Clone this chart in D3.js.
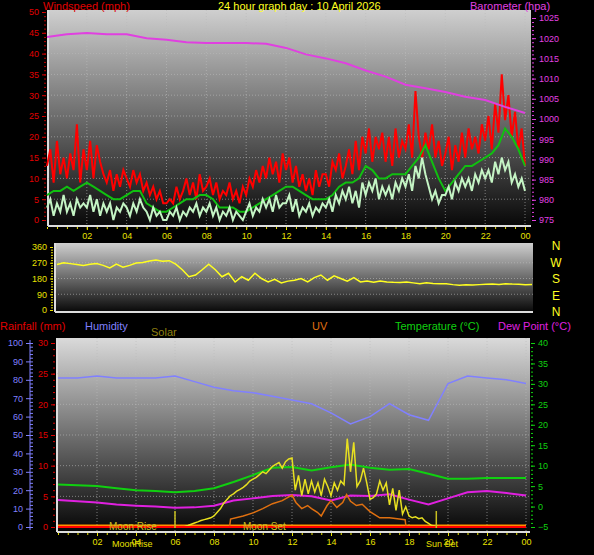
<!DOCTYPE html>
<html>
<head>
<meta charset="UTF-8">
<script src="https://d3js.org/d3.v7.min.js"></script>
<style>
  body { margin: 0; background: #000; }
  text { font-family: "Liberation Sans", Arial, sans-serif; }
</style>
</head>
<body>
<div id="chart"></div>
<script>
// ---- data (10-min or 20-min steps, hour 0 .. 24) ----
const windGust = [
  13,17,9,19,11,15, 10,16,12,23,9,17, 12,19,10,18,14,11, 9,12,7,11,8,12,
  10,8,12,9,11,7, 9,6,8,5,7,4, 4,5,4,8,5,7, 10,6,9,5,11,7,
  8,10,6,9,5,7, 6,9,5,7,4,8, 6,10,8,12,9,13, 10,15,11,14,9,16,
  12,15,9,13,8,11, 7,10,6,12,8,11, 11,8,14,12,16,10, 13,17,11,19,12,20,
  16,22,14,20,17,21, 14,20,13,22,15,19, 17,23,15,31,20,15, 21,17,23,15,19,13,
  16,20,12,18,14,21, 15,22,17,20,16,23, 19,25,17,28,21,35, 24,30,20,26,17,22, 13
];
const windSpeed = [
  3,5,1,4,2,6, 2,4,1,5,3,4, 3,6,2,5,1,4, 2,4,0,3,2,4,
  3,1,4,2,5,3, 2,0,3,1,2,0, 0,2,1,3,0,2, 1,3,2,4,1,3,
  2,4,1,3,0,2, 1,3,0,2,1,0, 2,4,1,3,2,5, 3,5,2,6,3,4,
  4,6,2,5,1,3, 2,4,1,3,2,4, 3,5,2,6,4,7, 5,8,4,7,3,9,
  6,9,7,10,5,8, 6,8,5,9,7,10, 8,11,7,13,10,15, 11,8,5,7,4,6,
  6,8,5,9,7,10, 8,10,7,11,9,12, 10,12,9,14,11,15, 12,14,9,11,8,10, 7
];
const windAvg = [
  6,7,7, 8,7,8, 9,8,7, 6,5,5, 6,7,7, 4,3,2, 2,3,4, 5,5,6,
  6,5,3, 3,3,2, 2,3,4, 5,6,7, 8,8,7, 6,5,5, 5,6,8, 9,9,10,
  13,12,10, 10,11,11, 11,13,15, 18,14,10, 7,9,11, 13,13,14, 15,16,18, 22,20,17, 13
];
const barometer = [1020.3,1021,1021.3,1021,1021,1020,1019.6,1019,1018.8,1018.8,1018.8,1018.6,
  1017.6,1016,1015,1013.8,1012,1010.5,1008.5,1007.6,1006.7,1005.5,1004.7,1003,1001.5];
const windDir = [
  260,270,265, 260,255,262, 265,255,240, 262,245,255, 268,272,280, 285,278,282,
  262,230,190, 200,230,262, 230,190,210, 160,190,170, 210,180,160, 175,155,165,
  170,180,160, 185,200,170, 195,180,165, 185,160,165, 158,165,160, 158,157,160,
  155,150,155, 152,150,150, 145,142,144, 143,145,147, 148,146,150, 148,147,145, 146
];
const humidity = [81,81,82,81,81,81,82,79,76,74,73,71,69,67,62,56,60,67,61,58,78,82,81,80,78];
const temperature = [5.4,5.2,5,4.5,4,3.8,3.5,3.8,4.5,6,7.7,9.5,9.7,8.8,9.6,10.3,9.5,9,9.2,8,6.8,6.8,7,7,7];
const dewPoint = [1.6,1.3,1,0.5,0.2,0,-0.3,-0.2,0.2,1.5,2,2.6,2.8,2.5,1.5,2.7,2.6,3,1.7,0.5,2,3.5,3.8,3.3,2.7];
const solar = [
  0,0,0,0,0,0, 0,0,0,0,0,0, 0,0,0,0,0,0, 0,0,0,0,0,0, 0,0,0,0,0,0, 0,0,0,0,0,0,
  0,0,0,3,8,15, 22,28,35,40,45,50, 60,80,100,130,150,170, 180,195,205,215,230,250,
  260,270,285,300,290,310, 330,340,350,320,355,370, 375,200,280,170,260,180,
  250,190,240,170,260,220, 170,240,200,250,230,480, 300,460,220,250,320,240,
  150,160,180,250,200,240, 120,210,90,200,70,110, 60,50,55,45,50,30, 20,8,5,3,2,0,
  0,0,0,0,0,0, 0,0,0,0,0,0, 0,0,0,0,0,0, 0,0,0,0,0,0, 0
];
const uvHours = [8.8,8.85,9.5,10,10.5,11,11.5,12,12.2,12.5,12.8,13,13.3,13.5,13.8,14,14.3,14.6,14.8,15,15.3,15.6,16,16.5,17,17.5,17.8,17.85];
const uvIndex = [0,1.3,1.8,2.3,3,3.8,4.3,5.2,4,3,3.5,3,2.4,1.8,3.5,4.3,3.2,4,5.3,4.2,3.5,3.7,2.5,1.5,1.5,1.3,1.2,0];
const rainfall = [0,0,0,0,0,0,0,0,0,0,0,0,0,0,0,0,0,0,0,0,0,0,0,0,0];
const hourLabels = ["02","04","06","08","10","12","14","16","18","20","22","00"];
const compass = ["N","W","S","E","N"];

const W = 594, H = 555;
const svg = d3.select("#chart").append("svg").attr("width", W).attr("height", H)
  .style("background", "#000");
const defs = svg.append("defs");

function grad(id, top, bottom) {
  const g = defs.append("linearGradient").attr("id", id).attr("x1", 0).attr("y1", 0).attr("x2", 0).attr("y2", 1);
  g.append("stop").attr("offset", "0%").attr("stop-color", top);
  g.append("stop").attr("offset", "100%").attr("stop-color", bottom);
}
grad("g1", "#cfcfcf", "#080808");
grad("g3", "#dadada", "#050505");

function panel(x0, x1, y0, y1, gid) {
  svg.append("rect").attr("x", x0).attr("y", y0).attr("width", x1 - x0).attr("height", y1 - y0)
    .attr("fill", `url(#${gid})`);
  svg.append("line").attr("x1", x0).attr("x2", x1).attr("y1", y1).attr("y2", y1)
    .attr("stroke", "#ddd").attr("stroke-width", 2);
  svg.append("line").attr("x1", x0).attr("x2", x0).attr("y1", y0).attr("y2", y1)
    .attr("stroke", "#ddd").attr("stroke-width", 2);
}
function vgrid(x, y0, y1) {
  d3.range(2, 25, 2).forEach(h => svg.append("line").attr("x1", x(h)).attr("x2", x(h))
    .attr("y1", y0).attr("y2", y1).attr("stroke", "#bbb").attr("stroke-opacity", 0.6)
    .attr("stroke-dasharray", "1,2"));
}
function hgrid(y, vals, x0, x1) {
  vals.forEach(v => svg.append("line").attr("x1", x0).attr("x2", x1).attr("y1", y(v)).attr("y2", y(v))
    .attr("stroke", "#bbb").attr("stroke-opacity", 0.6).attr("stroke-dasharray", "1,2"));
}
function axis(gen, pos, color) {
  const g = svg.append("g").attr("transform", pos).call(gen);
  g.select(".domain").remove();
  g.selectAll("line").attr("stroke", color);
  g.selectAll("text").attr("fill", color).style("font-size", "9px");
  return g;
}
function series(arr, step) { return arr.map((v, i) => [i * step, v]); }
function draw(data, x, y, color, w) {
  svg.append("path").datum(data).attr("fill", "none").attr("stroke", color).attr("stroke-width", w)
    .attr("d", d3.line().x(d => x(d[0])).y(d => y(d[1])));
}
function label(t, x, y, c) {
  svg.append("text").attr("x", x).attr("y", y).attr("fill", c).style("font-size", "11px").text(t);
}

// ---- panel 1: wind + barometer ----
const x1 = d3.scaleLinear().domain([0, 24]).range([47, 525]);
const yW = d3.scaleLinear().domain([0, 50]).range([220, 12]);
const yP = d3.scaleLinear().domain([975, 1025]).range([220, 18]);
panel(48, 531, 10, 226, "g1");
vgrid(x1, 10, 225);
hgrid(yW, d3.range(5, 50, 5), 48, 531);
axis(d3.axisLeft(yW).tickValues(d3.range(0, 51, 5)).tickSize(4), "translate(46,0)", "#e00000");
axis(d3.axisLeft(yW).tickValues(d3.range(0, 51, 1)).tickSize(2).tickFormat(""), "translate(46,0)", "#c00000");
axis(d3.axisRight(yP).tickValues(d3.range(975, 1026, 5)).tickSize(4).tickFormat(d3.format("d")), "translate(532,0)", "#e040e0");
axis(d3.axisRight(yP).tickValues(d3.range(975, 1026, 1)).tickSize(2).tickFormat(""), "translate(532,0)", "#e040e0");
axis(d3.axisBottom(x1).tickValues(d3.range(2, 25, 2)).tickSize(3).tickFormat((d, i) => hourLabels[i]),
  "translate(0,227)", "#e8e000");
axis(d3.axisBottom(x1).tickValues(d3.range(0, 24.1, 0.5)).tickSize(2).tickFormat(""), "translate(0,227)", "#e8e000");
draw(series(windGust, 1 / 6), x1, yW, "#ff0000", 2);
draw(series(windAvg, 1 / 3), x1, yW, "#10c010", 2);
draw(series(windSpeed, 1 / 6), x1, yW, "#c4f4c4", 2);
draw(series(barometer, 1), x1, yP, "#e040e0", 2);
label("Windspeed (mph)", 43, 10, "#e00000");
label("24 hour graph day : 10 April 2026", 218, 10, "#ffff20");
label("Barometer (hpa)", 470, 10, "#e040e0");

// ---- panel 2: wind direction ----
const x2 = d3.scaleLinear().domain([0, 24]).range([57, 532]);
const yD = d3.scaleLinear().domain([0, 360]).range([310, 247]);
panel(55, 533, 243, 312, "g1");
hgrid(yD, [90, 180, 270], 55, 533);
axis(d3.axisLeft(yD).tickValues([0, 90, 180, 270, 360]).tickSize(3), "translate(53,0)", "#e8e000");
axis(d3.axisLeft(yD).tickValues(d3.range(0, 361, 15)).tickSize(2).tickFormat(""), "translate(53,0)", "#e8e000");
draw(series(windDir, 1 / 3), x2, yD, "#ffff20", 1.5);
compass.forEach((c, i) => svg.append("text").attr("x", 556).attr("y", 250 + i * 16.5)
  .attr("text-anchor", "middle").attr("fill", "#ffff20").style("font-size", "12px").text(c));

// ---- panel 3: rain / humidity / solar / uv / temp / dew ----
const x3 = d3.scaleLinear().domain([0, 24]).range([58, 526]);
const yH = d3.scaleLinear().domain([0, 100]).range([527, 343]);
const yR = d3.scaleLinear().domain([0, 30]).range([527, 343]);
const yT = d3.scaleLinear().domain([-5, 40]).range([527, 343]);
const yS = d3.scaleLinear().domain([0, 1000]).range([527, 343]);
panel(57, 530, 338, 532, "g3");
vgrid(x3, 338, 531);
hgrid(yR, d3.range(5, 30, 5), 57, 530);
svg.append("line").attr("x1", 30).attr("x2", 30).attr("y1", 340).attr("y2", 530).attr("stroke", "#8080ff");
axis(d3.axisLeft(yH).tickValues(d3.range(0, 101, 10)).tickSize(4), "translate(30,0)", "#8080ff");
axis(d3.axisRight(yH).tickValues(d3.range(0, 101, 2)).tickSize(3).tickFormat(""), "translate(30,0)", "#8080ff");
axis(d3.axisLeft(yR).tickValues(d3.range(0, 31, 5)).tickSize(4), "translate(55,0)", "#e00000");
axis(d3.axisLeft(yR).tickValues(d3.range(0, 31, 1)).tickSize(2).tickFormat(""), "translate(55,0)", "#e00000");
axis(d3.axisRight(yT).tickValues(d3.range(-5, 41, 5)).tickSize(4), "translate(531,0)", "#10d010");
axis(d3.axisRight(yT).tickValues(d3.range(-5, 41, 1)).tickSize(2).tickFormat(""), "translate(531,0)", "#10d010");
axis(d3.axisBottom(x3).tickValues(d3.range(2, 25, 2)).tickSize(3).tickFormat((d, i) => hourLabels[i]),
  "translate(0,533)", "#e8e000");
axis(d3.axisBottom(x3).tickValues(d3.range(0, 24.1, 0.5)).tickSize(2).tickFormat(""), "translate(0,533)", "#e8e000");

draw(series(humidity, 1), x3, yH, "#8080ff", 1.5);
draw(series(temperature, 1), x3, yT, "#10d010", 2);
draw(series(dewPoint, 1), x3, yT, "#e020e0", 2);
draw(series(rainfall, 1).map(d => [d[0], d[1] + 0.3]), x3, yR, "#ff9000", 1.5);
draw(series(solar, 1 / 6), x3, yS, "#e8e020", 1.5);
draw(uvHours.map((h, i) => [h, uvIndex[i]]), x3, yR, "#e07010", 1.5);
draw(series(rainfall, 1), x3, yR, "#ff0000", 2);
// sunrise / sunset markers
[6.0, 19.4].forEach(h => svg.append("line").attr("x1", x3(h)).attr("x2", x3(h))
  .attr("y1", 511).attr("y2", 528).attr("stroke", "#c8c020").attr("stroke-width", 1.5));
svg.append("text").attr("x", 109).attr("y", 530).attr("fill", "#c8c020").style("font-size", "10px").text("Moon Rise");
svg.append("text").attr("x", 243).attr("y", 530).attr("fill", "#c8c020").style("font-size", "10px").text("Moon Set");
svg.append("text").attr("x", 112).attr("y", 547).attr("fill", "#e8e000").style("font-size", "9px").text("MoonRise");
svg.append("text").attr("x", 426).attr("y", 547).attr("fill", "#e8e000").style("font-size", "9px").text("Sun Set");

label("Rainfall (mm)", 0, 330, "#e00000");
label("Humidity", 85, 330, "#8080ff");
label("Solar", 151, 336, "#908010");
label("UV", 312, 330, "#e07010");
label("Temperature (\u00b0C)", 395, 330, "#10d010");
label("Dew Point (\u00b0C)", 498, 330, "#e020e0");
</script>
</body>
</html>
